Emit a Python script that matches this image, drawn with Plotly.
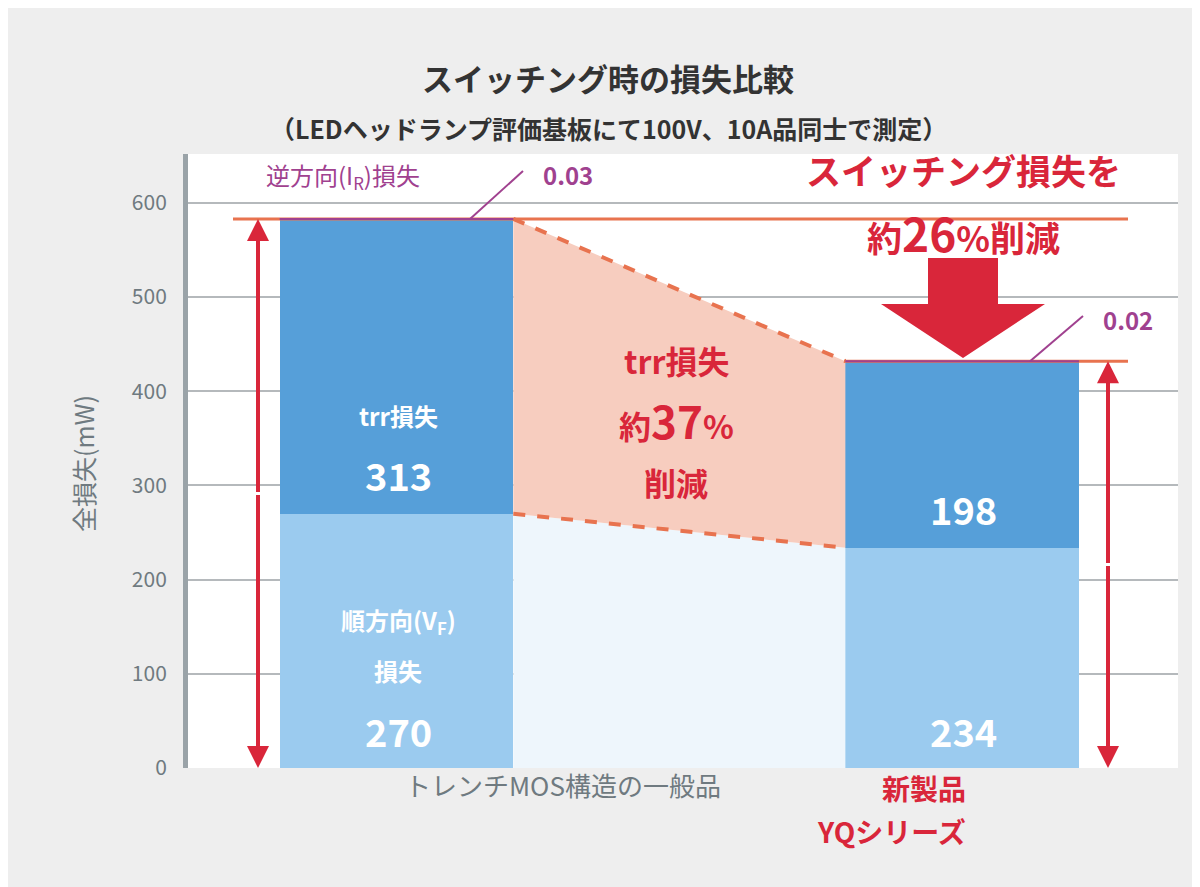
import plotly.graph_objects as go

categories = ["トレンチMOS構造の一般品", "新製品 YQシリーズ"]
vf_loss = [270, 234]
trr_loss = [313, 198]
ir_loss = [0.03, 0.02]
totals = [v + t + i for v, t, i in zip(vf_loss, trr_loss, ir_loss)]
bar_x = [0.2106, 0.782]
bar_w = 0.236

F = "Noto Sans CJK JP"
X0, X1 = 180, 1170
def px(xp): return (xp - X0) / (X1 - X0)
def py(yp): return (760 - yp) / 0.9417

fig = go.Figure()
l_edge = bar_x[0] + bar_w / 2
r_edge = bar_x[1] - bar_w / 2
fig.add_trace(go.Scatter(x=[l_edge, r_edge, r_edge, l_edge], y=[0, 0, vf_loss[1], vf_loss[0]],
                         fill="toself", fillcolor="#eef6fc", line=dict(width=0), mode="lines", hoverinfo="skip"))
fig.add_trace(go.Scatter(x=[l_edge, r_edge, r_edge, l_edge], y=[vf_loss[0], vf_loss[1], totals[1], totals[0]],
                         fill="toself", fillcolor="#f7cdbf", line=dict(width=0), mode="lines", hoverinfo="skip"))
for a, b in [(vf_loss[0], vf_loss[1]), (totals[0], totals[1])]:
    fig.add_trace(go.Scatter(x=[l_edge, r_edge], y=[a, b], mode="lines",
                             line=dict(color="#e8734f", width=4, dash="dash"), hoverinfo="skip"))
fig.add_trace(go.Bar(x=bar_x, y=vf_loss, width=bar_w, marker=dict(color="#9bcbef", line=dict(width=0))))
fig.add_trace(go.Bar(x=bar_x, y=trr_loss, width=bar_w, marker=dict(color="#569fd9", line=dict(width=0))))
fig.add_trace(go.Bar(x=bar_x, y=ir_loss, width=bar_w, marker=dict(color="#a0418f", line=dict(width=0))))

shapes = []
shapes.append(dict(type="line", x0=px(225), x1=px(1120), y0=totals[0], y1=totals[0], line=dict(color="#e8734f", width=3)))
shapes.append(dict(type="line", x0=px(836), x1=px(1120), y0=totals[1], y1=totals[1], line=dict(color="#e8734f", width=3)))
for i in range(2):
    shapes.append(dict(type="line", x0=bar_x[i]-bar_w/2, x1=bar_x[i]+bar_w/2, y0=totals[i], y1=totals[i], line=dict(color="#a0418f", width=2)))
shapes.append(dict(type="line", x0=px(462), x1=px(515), y0=totals[0], y1=py(163), line=dict(color="#a0418f", width=2)))
shapes.append(dict(type="line", x0=px(1022), x1=px(1075), y0=totals[1], y1=py(308), line=dict(color="#a0418f", width=2)))
ax = [920, 990, 990, 1037, 955, 873, 920]
ay = [250, 250, 296, 296, 350, 296, 296]
path = "M " + " L ".join(f"{px(a)},{py(b)}" for a, b in zip(ax, ay)) + " Z"
shapes.append(dict(type="path", path=path, fillcolor="#d9263a", line=dict(width=0)))
fig.update_layout(shapes=shapes)

for xp, tot in [(250, totals[0]), (1100, totals[1])]:
    for (y_from, y_to) in [(tot/2, tot), (tot/2, 0)]:
        fig.add_annotation(x=px(xp), y=y_to, ax=px(xp), ay=y_from, xref="x", yref="y", axref="x", ayref="y",
                           showarrow=True, arrowhead=2, arrowsize=1.1, arrowwidth=4, arrowcolor="#d9263a", text="")

def txt(x, y, t, size, color, bold=False):
    fig.add_annotation(x=px(x), y=py(y), xref="x", yref="y", text=f"<b>{t}</b>" if bold else t,
                       showarrow=False, font=dict(family=F, size=size, color=color))

def figtxt(x, y, t, size, color, bold=True, angle=0):
    xf = (x - 180) / 990
    yf = (760 - y) / 614
    fig.add_annotation(x=xf, y=yf, xref="paper", yref="paper", text=f"<b>{t}</b>" if bold else t,
                       showarrow=False, textangle=angle, font=dict(family=F, size=size, color=color))

figtxt(600, 45, "スイッチング時の損失比較", 31, "#333333")
figtxt(600, 100, "（LEDヘッドランプ評価基板にて100V、10A品同士で測定）", 25, "#333333")
figtxt(55, 455, "全損失(mW)", 25, "#6f7a80", False, angle=-90)
figtxt(395, 797, categories[0], 26, "#6f7a80", False)
figtxt(960, 802, "新製品", 28, "#d9263a")
figtxt(960, 845, "YQシリーズ", 28, "#d9263a")

txt(335, 168, "逆方向(I<sub>R</sub>)損失", 24, "#a0418f")
txt(560, 167, "0.03", 24, "#a0418f", True)
txt(1120, 312, "0.02", 24, "#a0418f", True)
txt(955, 162, "スイッチング損失を", 35, "#d9263a", True)
txt(955, 224, "約<span style='font-size:46px'>26</span>%削減", 35, "#d9263a", True)
txt(668, 352, "trr損失", 32, "#d9263a", True)
txt(668, 412, "約<span style='font-size:44px'>37</span>%", 32, "#d9263a", True)
txt(668, 474, "削減", 32, "#d9263a", True)

txt(390, 408, "trr損失", 24, "white", True)
txt(390, 467, "313", 38, "white", True)
txt(390, 613, "順方向(V<sub>F</sub>)", 24, "white", True)
txt(390, 662, "損失", 24, "white", True)
txt(390, 722, "270", 38, "white", True)
txt(955, 500, "198", 38, "white", True)
txt(955, 722, "234", 38, "white", True)

fig.update_layout(
    width=1200, height=887, barmode="stack", showlegend=False,
    margin=dict(l=180, r=30, t=146, b=127),
    paper_bgcolor="#eeeeee", plot_bgcolor="white",
    font=dict(family=F),
    xaxis=dict(range=[0, 1], showgrid=False, showticklabels=False, zeroline=False, showline=False, fixedrange=True),
    yaxis=dict(range=[0, 652], tickvals=[0, 100, 200, 300, 400, 500, 600], showgrid=True, gridcolor="#b5b9bc",
               gridwidth=2, zeroline=False, showline=True, linecolor="#9aa3a8", linewidth=5,
               tickfont=dict(size=21, color="#6f7a80", family=F), ticks="", ticklabelstandoff=12),
)
fig.write_html("out.html")
